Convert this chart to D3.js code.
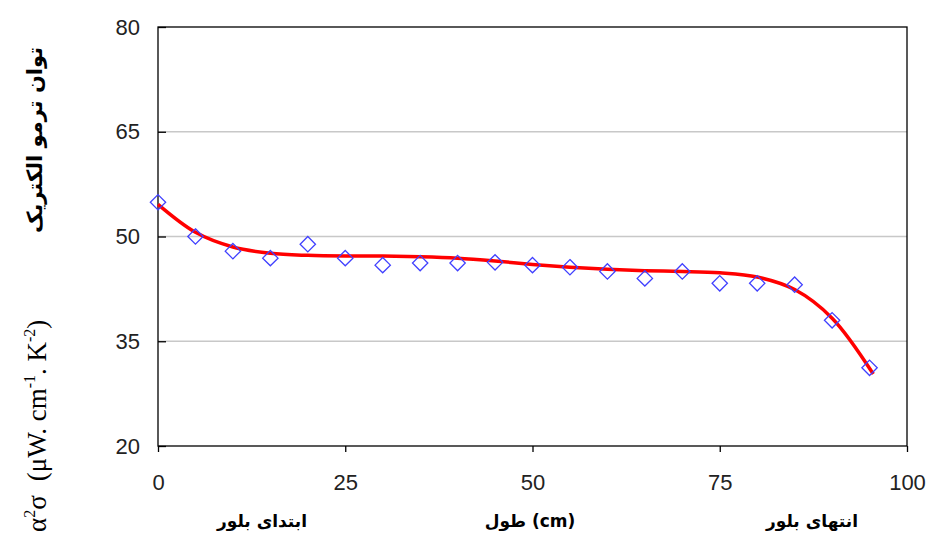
<!DOCTYPE html>
<html><head><meta charset="utf-8">
<script src="https://cdn.jsdelivr.net/npm/d3@7"></script>
<style>body{margin:0;background:#fff}</style>
</head><body><div id="chart"></div>
<script>
// measured points
var xs = [0, 5, 10, 15, 20, 25, 30, 35, 40, 45, 50, 55, 60, 65, 70, 75, 80, 85, 90, 95];
var ys = [54.9, 50, 47.9, 46.9, 48.9, 46.9, 45.9, 46.2, 46.2, 46.3, 45.9, 45.6, 45, 44, 45, 43.3, 43.3, 43.1, 38, 31.2];
// trend curve
var fitX = [0, 5, 10, 15, 20, 25, 30, 35, 40, 45, 50, 55, 60, 65, 70, 75, 80, 85, 90, 95.5];
var fitY = [54.6, 50.6, 48.5, 47.6, 47.3, 47.2, 47.2, 47.1, 46.9, 46.5, 46.0, 45.6, 45.3, 45.1, 45.0, 44.8, 44.2, 42.4, 38.3, 30.3];
var xTicks = [0, 25, 50, 75, 100];
var yTicks = [20, 35, 50, 65, 80];

var width = 931, height = 545;
var svg = d3.select('#chart').append('svg').attr('width', width).attr('height', height);

var x = d3.scaleLinear().domain([0, 100]).range([158, 907]);
var y = d3.scaleLinear().domain([20, 80]).range([446, 27]);

// grid
svg.selectAll('.grid').data(yTicks.slice(1, 4)).enter().append('line')
	.attr('x1', x(0)).attr('x2', x(100))
	.attr('y1', function(d) { return y(d); }).attr('y2', function(d) { return y(d); })
	.attr('stroke', '#c8c8c8').attr('stroke-width', 1.5);

// frame
svg.append('rect').attr('x', x(0)).attr('y', y(80))
	.attr('width', x(100) - x(0)).attr('height', y(20) - y(80))
	.attr('fill', 'none').attr('stroke', '#000').attr('stroke-width', 1.3);

var xa = svg.append('g').attr('transform', 'translate(0,' + y(20) + ')')
	.call(d3.axisBottom(x).tickValues(xTicks).tickSize(6).tickPadding(22));
var ya = svg.append('g').attr('transform', 'translate(' + x(0) + ',0)')
	.call(d3.axisLeft(y).tickValues(yTicks).tickSize(-8).tickPadding(18));
[xa, ya].forEach(function(a) {
	a.select('.domain').remove();
	a.selectAll('line').attr('stroke', '#000').attr('stroke-width', 1.3);
	a.selectAll('text').attr('font-family', 'Liberation Sans, Arial, sans-serif')
		.attr('font-size', 22).attr('fill', '#222');
});

// curve
var line = d3.line().x(function(d) { return x(d[0]); }).y(function(d) { return y(d[1]); })
	.curve(d3.curveCatmullRom);
svg.append('path').attr('d', line(d3.zip(fitX, fitY)))
	.attr('fill', 'none').attr('stroke', '#ff0000').attr('stroke-width', 3.5);

// markers
svg.selectAll('.pt').data(d3.zip(xs, ys)).enter().append('path')
	.attr('d', d3.symbol().type(d3.symbolDiamond2).size(150))
	.attr('transform', function(d) { return 'translate(' + x(d[0]) + ',' + y(d[1]) + ')'; })
	.attr('fill', 'none').attr('stroke', '#4040ff').attr('stroke-width', 1.3);

// labels
var pf = 'DejaVu Sans, Noto Sans, sans-serif';
svg.append('text').attr('x', 262).attr('y', 527).attr('text-anchor', 'middle')
	.attr('font-family', pf).attr('font-weight', 'bold').attr('font-size', 17).text('ابتدای بلور');
svg.append('text').attr('x', 530).attr('y', 527).attr('text-anchor', 'middle')
	.attr('font-family', pf).attr('font-weight', 'bold').attr('font-size', 17).text('طول (cm)');
svg.append('text').attr('x', 812).attr('y', 527).attr('text-anchor', 'middle')
	.attr('font-family', pf).attr('font-weight', 'bold').attr('font-size', 17).text('انتهای بلور');

svg.append('text').attr('transform', 'translate(42,140) rotate(-90)').attr('text-anchor', 'middle')
	.attr('font-family', pf).attr('font-weight', 'bold').attr('font-size', 21).text('توان ترمو الکتریک');
var yl = svg.append('text').attr('transform', 'translate(46,532) rotate(-90)')
	.attr('font-family', 'Liberation Serif, Times New Roman, serif').attr('font-size', 27);
yl.append('tspan').text('α');
yl.append('tspan').attr('dy', -11).attr('font-size', 16).text('2');
yl.append('tspan').attr('dy', 11).text('σ');
yl.append('tspan').attr('dx', 14).text('(μW. cm');
yl.append('tspan').attr('dy', -11).attr('font-size', 16).text('-1');
yl.append('tspan').attr('dy', 11).text('. K');
yl.append('tspan').attr('dy', -11).attr('font-size', 16).text('-2');
yl.append('tspan').attr('dy', 11).text(')');
</script></body></html>
